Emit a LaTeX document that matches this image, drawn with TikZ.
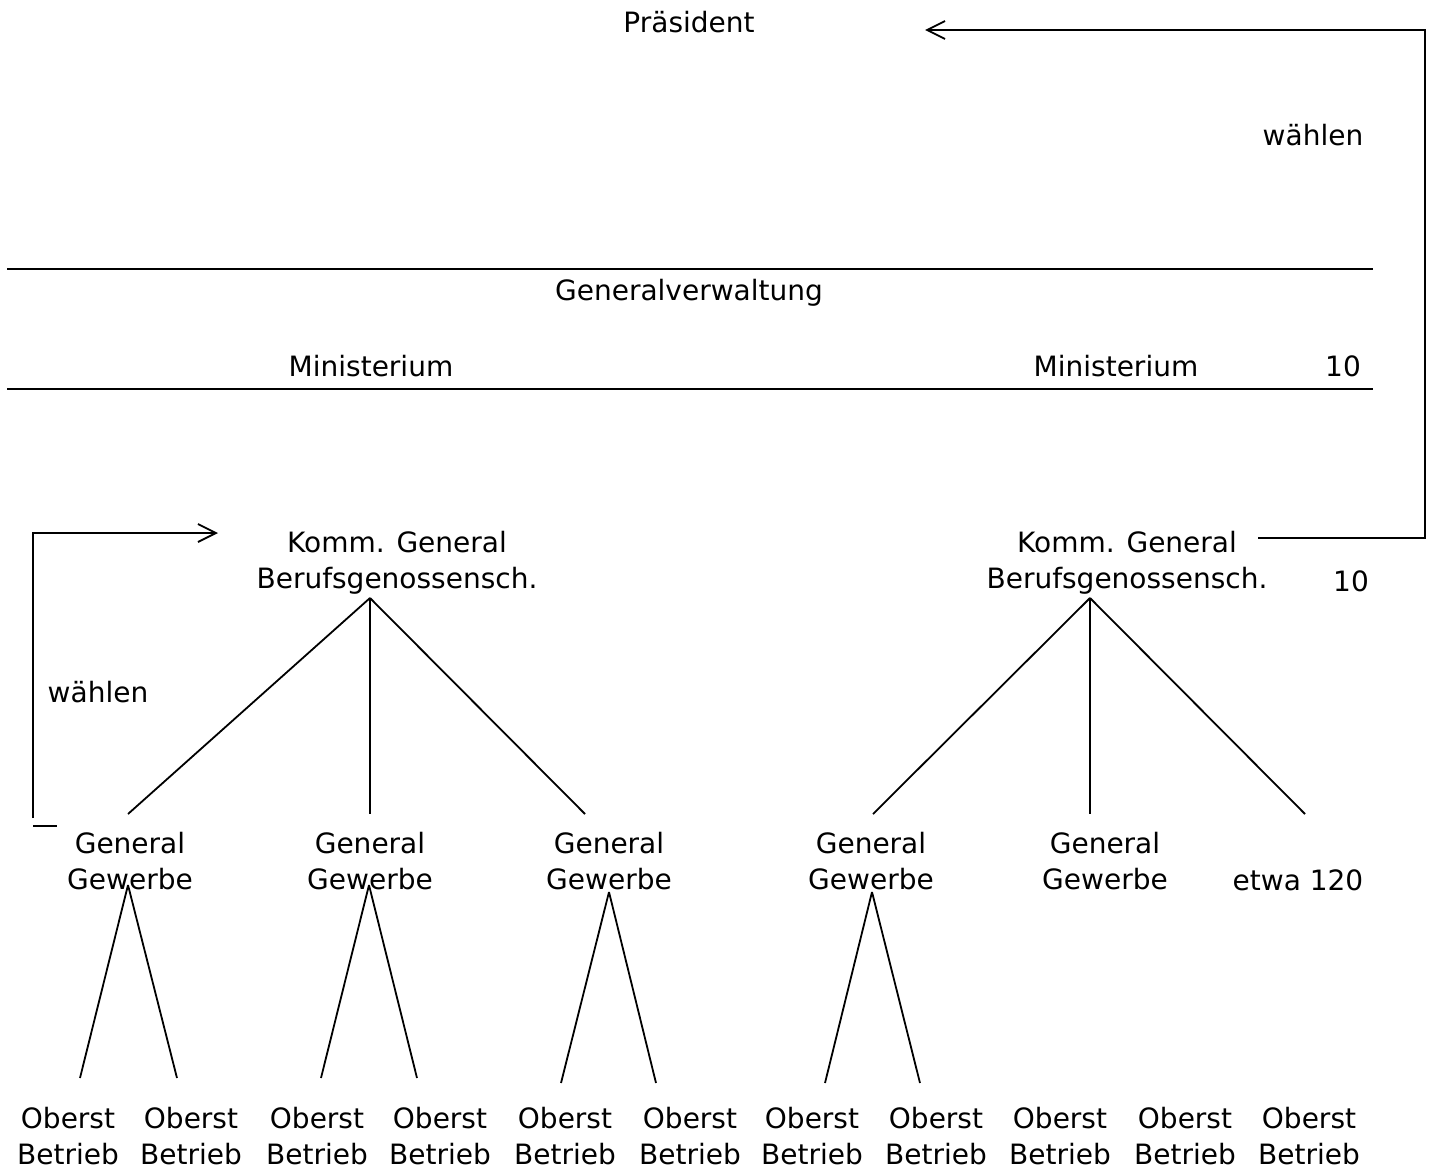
\documentclass[tikz,border=0pt]{standalone}
\usepackage{fontspec}
\setmainfont{DejaVu Sans}
\usetikzlibrary{arrows.meta}
\tikzset{
  lbl/.style={align=center, inner sep=0pt, font=\fontsize{14}{18}\selectfont},
  conn/.style={line width=0.9pt},
  pfeil/.style={conn, -{Straight Barb[length=9pt, width=9pt]}}
}

\begin{document}
\begin{tikzpicture}[x=0.5pt, y=-0.5pt]
  \useasboundingbox (0,0) rectangle (1435,1173);
  \node [lbl] (praes) at (689,22) {Präsident};
  \node [lbl] (waehlenR) at (1313,135) {wählen};
  \node [lbl] (gv) at (689,293) {Generalverwaltung};
  \node [lbl] (minL) at (371,366) {Ministerium};
  \node [lbl] (minR) at (1116,366) {Ministerium};
  \node [lbl] (minN) at (1343,366) {10};
  \node [lbl] (kommL) at (397,563) {Komm. General\\Berufsgenossensch.};
  \node [lbl] (kommR) at (1127,563) {Komm. General\\Berufsgenossensch.};
  \node [lbl] (kommN) at (1351,581) {10};
  \node [lbl] (waehlenL) at (98,692) {wählen};
  \node [lbl] (gw1) at (130,861) {General\\Gewerbe};
  \node [lbl] (gw2) at (370,861) {General\\Gewerbe};
  \node [lbl] (gw3) at (609,861) {General\\Gewerbe};
  \node [lbl] (gw4) at (871,861) {General\\Gewerbe};
  \node [lbl] (gw5) at (1105,861) {General\\Gewerbe};
  \node [lbl] (etwa) at (1298,880) {etwa 120};
  \foreach \i/\x in {1/68,2/191,3/317,4/440,5/565,6/690,7/812,8/936,9/1060,10/1185,11/1309}
    \node [lbl] (ob\i) at (\x,1136) {Oberst\\Betrieb};

  \coordinate (lineA1) at (7,269);
  \coordinate (lineA2) at (1373,269);
  \coordinate (lineB1) at (7,389);
  \coordinate (lineB2) at (1373,389);
  \draw [conn] (lineA1) -- (lineA2);
  \draw [conn] (lineB1) -- (lineB2);

  \coordinate (rStart) at (1258,538);
  \coordinate (rEnd) at (925,30);
  \draw [pfeil] (rStart) -- (1425,538) |- (rEnd);
  \coordinate (lStart) at (33,818);
  \coordinate (lEnd) at (218,533);
  \draw [pfeil] (lStart) |- (lEnd);
  \coordinate (tick1) at (33,826);
  \coordinate (tick2) at (57,826);
  \draw [conn] (tick1) -- (tick2);

  \coordinate (kL) at (370,598);
  \coordinate (kR) at (1090,598);
  \draw [conn] (kL) -- (128,814);
  \draw [conn] (kL) -- (370,814);
  \draw [conn] (kL) -- (585,814);
  \draw [conn] (kR) -- (873,814);
  \draw [conn] (kR) -- (1090,814);
  \draw [conn] (kR) -- (1305,814);

  \coordinate (g1) at (128,885);
  \coordinate (g2) at (369,885);
  \coordinate (g3) at (609,892);
  \coordinate (g4) at (872,892);
  \draw [conn] (g1) -- (80,1078);
  \draw [conn] (g1) -- (177,1078);
  \draw [conn] (g2) -- (321,1078);
  \draw [conn] (g2) -- (417,1078);
  \draw [conn] (g3) -- (561,1083);
  \draw [conn] (g3) -- (656,1083);
  \draw [conn] (g4) -- (825,1083);
  \draw [conn] (g4) -- (920,1083);
\end{tikzpicture}
\end{document}
